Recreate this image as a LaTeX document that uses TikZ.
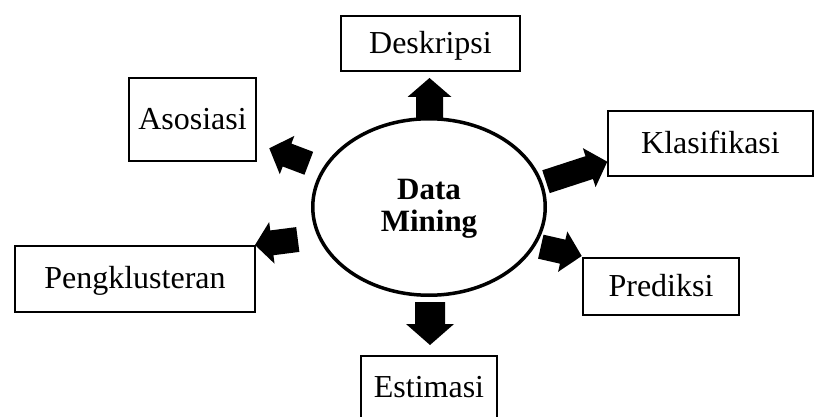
\documentclass[tikz,border=0pt]{standalone}
\usepackage{fontspec}
\setmainfont{Liberation Serif}
\usetikzlibrary{calc,shapes.geometric}
\tikzset{
  box/.style={draw, line width=2pt, inner sep=0pt, text height=20pt, text depth=0pt, font=\fontsize{32}{34}\selectfont},
  hub/.style={draw, ellipse, line width=3.5pt, inner sep=0pt},
  hubtext/.style={font=\fontsize{31}{32}\selectfont\bfseries, align=center, inner sep=0pt},
  blk/.style={fill=black, draw=none}
}
% #1 start, #2 tip, #3 shaft half width, #4 head half width, #5 head length
\newcommand\blockarrow[5]{%
  \coordinate (hb) at ($(#2)!#5!(#1)$);
  \fill[blk] ($(#1)!#3!90:(#2)$) -- ($(hb)!#3!90:(#2)$) -- ($(hb)!#4!90:(#2)$) -- (#2)
    -- ($(hb)!#4!-90:(#2)$) -- ($(hb)!#3!-90:(#2)$) -- ($(#1)!#3!-90:(#2)$) -- cycle;}
\begin{document}
\begin{tikzpicture}[x=1pt,y=-1pt]
\useasboundingbox (0,0) rectangle (815,417);
% hub
\node[hub, minimum width=232.5pt, minimum height=176.5pt] (dm) at (429,207) {};
\node[hubtext] (dmt) at (429,209) {Data\\Mining};
% boxes
\node[box, minimum width=179pt, minimum height=55pt] (desk) at (430.5,43.5) {Deskripsi};
\node[box, minimum width=127pt, minimum height=83pt] (asos) at (192.5,119.5) {Asosiasi};
\node[box, minimum width=205pt, minimum height=65pt] (klas) at (710.5,143.5) {Klasifikasi};
\node[box, minimum width=240pt, minimum height=66pt] (peng) at (135,279) {Pengklusteran};
\node[box, minimum width=156pt, minimum height=56pt] (pred) at (661,286.5) {Prediksi};
\node[box, minimum width=136pt, minimum height=62pt] (esti) at (429,387) {Estimasi};
% arrow end points
\coordinate (deskS) at (429.5,119);   \coordinate (deskE) at (429.5,78);
\coordinate (asosS) at (308.8,163.3); \coordinate (asosE) at (269.3,148.3);
\coordinate (klasS) at (546,181.7);   \coordinate (klasE) at (607.3,161.7);
\coordinate (pengS) at (297.8,239.5); \coordinate (pengE) at (255,245);
\coordinate (predS) at (540.8,246.7); \coordinate (predE) at (581.7,256);
\coordinate (estiS) at (430,302);     \coordinate (estiE) at (430,345);
% block arrows
\blockarrow{deskS}{deskE}{13.5pt}{22pt}{19pt}
\blockarrow{asosS}{asosE}{12.25pt}{20.5pt}{19pt}
\blockarrow{klasS}{klasE}{12pt}{20.5pt}{19pt}
\blockarrow{pengS}{pengE}{12.5pt}{21pt}{17pt}
\blockarrow{predS}{predE}{12.3pt}{20.7pt}{19.5pt}
\blockarrow{estiS}{estiE}{15pt}{24pt}{21pt}
\end{tikzpicture}
\end{document}
